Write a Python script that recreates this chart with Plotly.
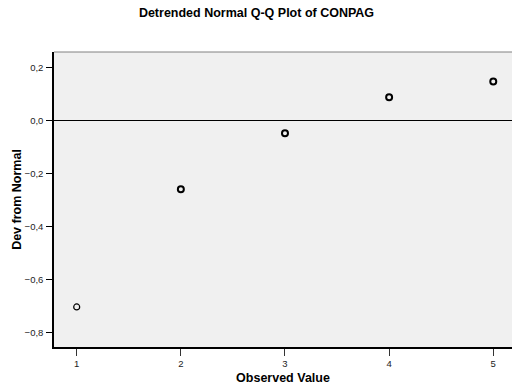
import plotly.graph_objects as go

observed = [1, 2, 3, 4, 5]
dev_from_normal = [-0.703, -0.259, -0.048, 0.087, 0.147]
y_ticks = [-0.8, -0.6, -0.4, -0.2, 0.0, 0.2]
x_ticks = [1, 2, 3, 4, 5]

fig = go.Figure()
fig.add_trace(go.Scatter(
    x=observed, y=dev_from_normal, mode="markers",
    marker=dict(symbol="circle-open", size=6, color="black",
                line=dict(width=[1.2, 2, 2, 2, 2], color="black")),
    showlegend=False, hoverinfo="skip"))

font_family = "Liberation Sans, Arial, sans-serif"
fig.update_layout(
    width=513, height=390,
    margin=dict(l=54, r=1, t=52, b=43),
    paper_bgcolor="white", plot_bgcolor="#f0f0f0",
    separators=",.",
    font=dict(family=font_family, color="black"),
    title=dict(text="<b>Detrended Normal Q-Q Plot of CONPAG</b>",
               x=0.5, xanchor="center", y=1 - 13/390, yanchor="middle",
               font=dict(size=12.5, family=font_family, color="black")),
    xaxis=dict(range=[0.782, 5.18], tickvals=x_ticks, ticks="outside",
               ticklen=7, tickcolor="#333", tickwidth=1,
               ticklabelstandoff=0,
               showgrid=False, zeroline=False, showline=True,
               linecolor="black", linewidth=1.5,
               tickfont=dict(size=9.5, color="#222"),
               title=dict(text="<b>Observed Value</b>", standoff=5,
                          font=dict(size=12.5))),
    yaxis=dict(range=[-0.854, 0.258], tickvals=y_ticks, tickformat=".1f",
               ticks="outside", ticklen=6, tickcolor="black", tickwidth=1,
               ticklabelstandoff=1,
               showgrid=False, zeroline=True, zerolinecolor="black",
               zerolinewidth=1, showline=True, linecolor="black", linewidth=1.5,
               tickfont=dict(size=9.5, color="#222"),
               title=dict(text="<b>Dev from Normal</b>", standoff=0,
                          font=dict(size=12.5))),
)
# thin grey frame along the top of the plotting area
fig.add_shape(type="line", xref="paper", yref="paper", x0=0, x1=1, y0=1, y1=1,
              line=dict(color="#808080", width=1))

fig.write_html("out.html")
